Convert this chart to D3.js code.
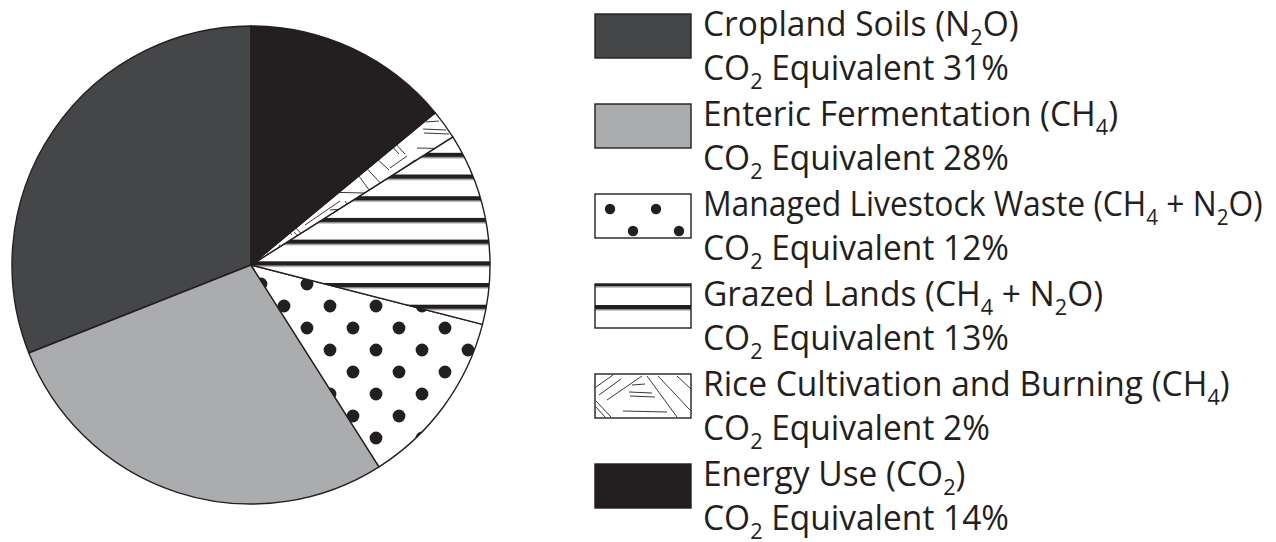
<!DOCTYPE html>
<html>
<head>
<meta charset="utf-8">
<script src="https://cdn.jsdelivr.net/npm/d3@7"></script>
<style>
  html, body { margin: 0; padding: 0; background: #fff; }
  svg text { font-family: "Open Sans", "Noto Sans", sans-serif; fill: #231f20; }
</style>
</head>
<body>
<svg id="chart" width="1276" height="542"></svg>
<script>
// ---- data ----
const categories = ["Cropland Soils", "Enteric Fermentation", "Managed Livestock Waste", "Grazed Lands", "Rice Cultivation and Burning", "Energy Use"];
const gases = ["(N{2}O)", "(CH{4})", "(CH{4} + N{2}O)", "(CH{4} + N{2}O)", "(CH{4})", "(CO{2})"];
const values = [31, 28, 12, 13, 2, 14];
const secondLinePrefix = "CO{2} Equivalent ";
const fills = ["#454648", "#abacae", "url(#dots)", "url(#hlines)", "url(#rice)", "#231f20"];
const legendFills = ["#454648", "#abacae", "url(#dotsL)", "url(#hlinesL)", "url(#riceL)", "#231f20"];

const ink = "#231f20";
const svg = d3.select("#chart");
const defs = svg.append("defs");

// ---- pattern builders ----
function dotPattern(id, x0, y0, r) {
  const p = defs.append("pattern").attr("id", id).attr("patternUnits", "userSpaceOnUse")
    .attr("x", x0).attr("y", y0).attr("width", 46).attr("height", 44);
  p.append("rect").attr("width", 46).attr("height", 44).attr("fill", "#fff");
  [[0, 0], [46, 0], [0, 44], [46, 44], [23, 22]].forEach(([cx, cy]) =>
    p.append("circle").attr("cx", cx).attr("cy", cy).attr("r", r).attr("fill", ink));
}
function linePattern(id, x0, y0, h, gap) {
  const p = defs.append("pattern").attr("id", id).attr("patternUnits", "userSpaceOnUse")
    .attr("x", x0).attr("y", y0).attr("width", 40).attr("height", gap);
  p.append("rect").attr("width", 40).attr("height", gap).attr("fill", "#fff");
  p.append("rect").attr("y", 0).attr("width", 40).attr("height", h).attr("fill", ink);
  p.append("rect").attr("y", h + 0.6).attr("width", 40).attr("height", 0.8).attr("fill", "#b8b8b8");
}
function ricePattern(id, x0, y0) {
  const p = defs.append("pattern").attr("id", id).attr("patternUnits", "userSpaceOnUse")
    .attr("x", x0).attr("y", y0).attr("width", 96).attr("height", 44);
  p.append("rect").attr("width", 96).attr("height", 44).attr("fill", "#fff");
  const segs = [
    [1, 13, 18, 1], [4, 21, 26, 5], [12, 26, 47, 2],
    [1, 27, 16, 43], [1, 33, 10, 43],
    [52, 2, 82, 43], [63, 2, 95, 36], [82, 2, 96, 15],
    [37, 11, 50, 10], [34, 18, 57, 19], [35, 22, 60, 23], [28, 37, 72, 38]
  ];
  segs.forEach(([a, b, c, d]) => p.append("line").attr("x1", a).attr("y1", b).attr("x2", c).attr("y2", d)
    .attr("stroke", ink).attr("stroke-width", 0.9));
}

// ---- pie ----
const cx = 251, cy = 265, R = 239;
dotPattern("dots", cx + 35, cy + 18, 6.4);
linePattern("hlines", 0, 235, 4.5, 21.7);
ricePattern("rice", 330, 110);

const pie = d3.pie().sort(null).startAngle(0).endAngle(-2 * Math.PI).value(d => d);
const arc = d3.arc().innerRadius(0).outerRadius(R);
const arcs = pie(values);

const g = svg.append("g").attr("transform", `translate(${cx},${cy})`);
g.selectAll("path.slice").data(arcs).join("path")
  .attr("class", "slice")
  .attr("d", arc)
  .attr("fill", (d, i) => fills[i])
  .attr("stroke", ink)
  .attr("stroke-width", 1.4)
  .attr("stroke-linejoin", "round");

// ---- legend ----
const swX = 595, swW = 96, swH = 44, swTop = 14, step = 90;
const textX = 703, fs = 34, subFs = 22, subDy = 9, maxRight = 1263, baseK = 0.985;

categories.forEach((c, i) => {
  const y = swTop + i * step;
  if (i === 2) dotPattern("dotsL", swX + 15, y + 15, 5.2);
  if (i === 3) linePattern("hlinesL", swX, y - 2, 4.5, 23);
  if (i === 4) ricePattern("riceL", swX, y);
});

function addRich(sel, str) {
  let prevSub = false;
  str.split(/(\{\d\})/).filter(s => s.length).forEach(p => {
    const m = p.match(/^\{(\d)\}$/);
    if (m) {
      sel.append("tspan").attr("font-size", subFs).attr("dy", subDy).text(m[1]);
      prevSub = true;
    } else {
      const t = sel.append("tspan").text(p);
      if (prevSub) t.attr("dy", -subDy);
      prevSub = false;
    }
  });
}

const legend = svg.append("g");
categories.forEach((c, i) => {
  const y = swTop + i * step;
  legend.append("rect").attr("x", swX).attr("y", y).attr("width", swW).attr("height", swH)
    .attr("fill", legendFills[i]).attr("stroke", ink).attr("stroke-width", 1.4);
  [[c + " " + gases[i], y + 22], [secondLinePrefix + values[i] + "%", y + 66]].forEach(([s, by]) => {
    const t = legend.append("text").attr("font-size", fs);
    addRich(t, s);
    const w = t.node().getComputedTextLength();
    const k = Math.min(baseK, (maxRight - textX) / w);
    t.attr("transform", `translate(${textX},${by}) scale(${k},1)`);
  });
});
</script>
</body>
</html>
